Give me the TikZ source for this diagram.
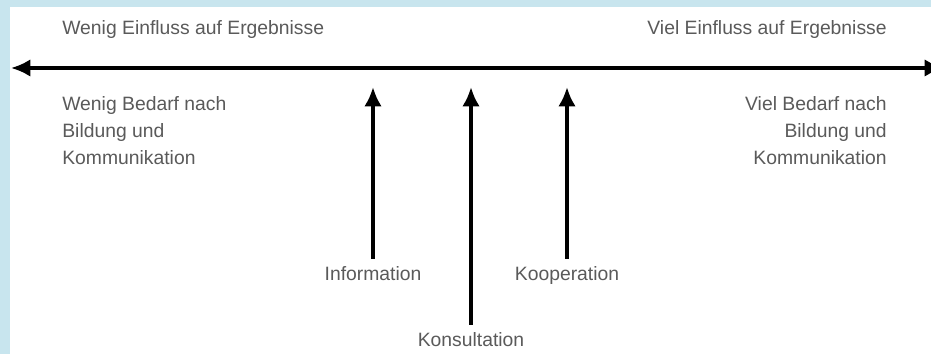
\documentclass[tikz,border=0pt]{standalone}
\usepackage{fontspec}
\setmainfont{Liberation Sans}
\usetikzlibrary{arrows.meta,positioning}
\definecolor{skyblue}{HTML}{C8E5EE}
\definecolor{txtgray}{HTML}{5A5A5A}

\begin{document}
\begin{tikzpicture}[x=0.02cm,y=-0.02cm,
  every node/.style={font=\fontsize{11}{15.4}\selectfont,text=txtgray,inner sep=0pt},
  axisline/.style={line width=2pt,{Latex[length=11pt,width=10pt]}-{Latex[length=11pt,width=10pt]}},
  uparrow/.style={line width=2.4pt,-{Latex[length=11pt,width=10pt]},shorten <=4pt},
  stage/.style={anchor=north}]
  % frame
  \fill[skyblue] (0,0) rectangle (931,354);
  \fill[white] (10,7) rectangle (931,354);
  \useasboundingbox (0,0) rectangle (931,354);
  % axis
  \coordinate (low) at (11,68);
  \coordinate (high) at (944,68);
  \draw[axisline] (low) -- (high);
  \node[anchor=base west] (lowinf) at (62,35) {Wenig Einfluss auf Ergebnisse};
  \node[anchor=base east] (highinf) at (887,35) {Viel Einfluss auf Ergebnisse};
  \node[anchor=north west,align=left] (lowneed) at (62,96)
    {Wenig Bedarf nach\\Bildung und\\Kommunikation};
  \node[anchor=north east,align=right] (highneed) at (887,96)
    {Viel Bedarf nach\\Bildung und\\Kommunikation};
  % stages
  \node[stage] (info) at (373,266) {Information};
  \node[stage] (kons) at (471,332) {Konsultation};
  \node[stage] (koop) at (567,266) {Kooperation};
  \coordinate (infotip) at (373,87);
  \coordinate (konstip) at (471,87);
  \coordinate (kooptip) at (567,87);
  \draw[uparrow] (info.north) -- (infotip);
  \draw[uparrow] (kons.north) -- (konstip);
  \draw[uparrow] (koop.north) -- (kooptip);
\end{tikzpicture}
\end{document}
